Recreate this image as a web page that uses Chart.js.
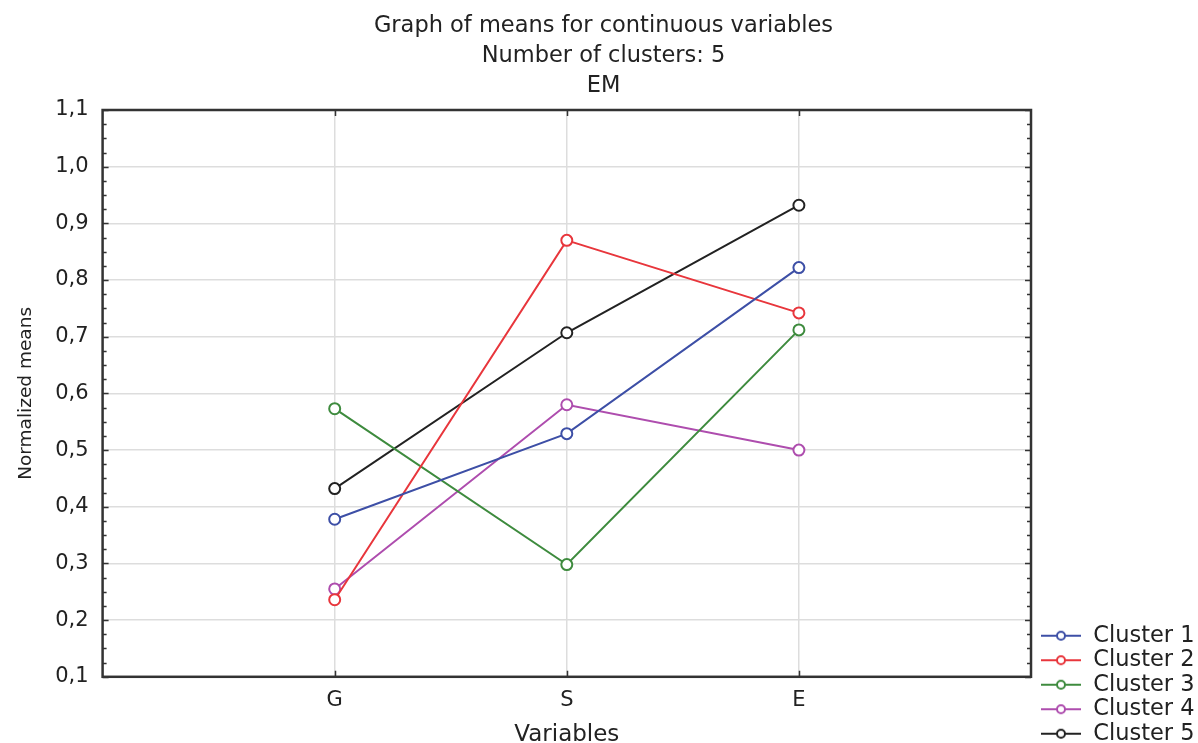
<!DOCTYPE html>
<html>
<head>
<meta charset="utf-8">
<title>Graph of means for continuous variables</title>
<script src="https://cdn.jsdelivr.net/npm/chart.js@4.4.1/dist/chart.umd.min.js"></script>
<style>
    html, body { margin: 0; padding: 0; background: #ffffff; }
    #wrap { width: 1198px; height: 743px; position: relative; }
</style>
</head>
<body>
<div id="wrap"><canvas id="meansChart"></canvas></div>
<script>
// --- data ---
const variables = ['G', 'S', 'E'];
const variablePos = [1, 2, 3];          // positions on the x axis (0..4)
const yTicks = [0.1, 0.2, 0.3, 0.4, 0.5, 0.6, 0.7, 0.8, 0.9, 1.0, 1.1];

const cluster1 = [0.378, 0.529, 0.822];
const cluster2 = [0.236, 0.870, 0.742];
const cluster3 = [0.573, 0.298, 0.712];
const cluster4 = [0.255, 0.580, 0.500];
const cluster5 = [0.432, 0.707, 0.932];

const clusterNames = ['Cluster 1', 'Cluster 2', 'Cluster 3', 'Cluster 4', 'Cluster 5'];
const clusterValues = [cluster1, cluster2, cluster3, cluster4, cluster5];
const clusterColors = ['#3d4fa6', '#e8363c', '#3e8b3e', '#ae4dae', '#222222'];

const FONT = '"DejaVu Sans", "Liberation Sans", sans-serif';

// small canvas for the legend: line with a hollow circle in the middle
// (8px of empty space on the left keeps it off the plot frame)
function legendSymbol(color) {
    const c = document.createElement('canvas');
    c.width = 49; c.height = 12;
    const g = c.getContext('2d');
    g.strokeStyle = color;
    g.lineWidth = 2;
    g.beginPath(); g.moveTo(8, 6); g.lineTo(48, 6); g.stroke();
    g.fillStyle = '#ffffff';
    g.beginPath(); g.arc(28, 6, 4, 0, Math.PI * 2); g.fill(); g.stroke();
    return c;
}

const datasets = clusterNames.map((name, i) => ({
    label: name,
    data: variablePos.map((x, j) => ({ x: x, y: clusterValues[i][j] })),
    borderColor: clusterColors[i],
    backgroundColor: '#ffffff',
    borderWidth: 2,
    pointRadius: 5.5,
    pointBorderWidth: 2,
    pointBackgroundColor: '#ffffff',
    pointBorderColor: clusterColors[i],
    pointStyle: 'circle',
    tension: 0,
    legendImg: legendSymbol(clusterColors[i])
}));

// frame with inward ticks, like the statistics package draws it
const framePlugin = {
    id: 'frame',
    afterDraw(chart) {
        const { ctx, chartArea: a, scales } = chart;
        const ys = scales.y, xs = scales.x;
        ctx.save();
        ctx.strokeStyle = '#333333';
        ctx.lineWidth = 1.5;
        ctx.beginPath();
        for (let v = 0.1; v <= 1.1001; v += 0.025) {
            const py = Math.round(ys.getPixelForValue(v)) + 0.5;
            const major = Math.abs(v * 10 - Math.round(v * 10)) < 0.01;
            const len = major ? 6 : 4;
            ctx.moveTo(a.left, py); ctx.lineTo(a.left + len, py);
            ctx.moveTo(a.right, py); ctx.lineTo(a.right - len, py);
        }
        variablePos.forEach(v => {
            const px = Math.round(xs.getPixelForValue(v)) + 0.5;
            ctx.moveTo(px, a.bottom); ctx.lineTo(px, a.bottom - 6);
            ctx.moveTo(px, a.top); ctx.lineTo(px, a.top + 6);
        });
        ctx.stroke();
        ctx.lineWidth = 2.5;
        ctx.strokeRect(a.left, a.top, a.right - a.left, a.bottom - a.top);
        ctx.restore();
    }
};

const ctx = document.getElementById('meansChart').getContext('2d');
new Chart(ctx, {
    type: 'line',
    data: { datasets: datasets },
    options: {
        responsive: true,
        maintainAspectRatio: false,
        animation: false,
        layout: { padding: { left: 9, right: 0, top: 4, bottom: -4 } },
        scales: {
            x: {
                type: 'linear',
                min: 0,
                max: 4,
                border: { display: false },
                grid: {
                    drawTicks: false,
                    color: c => (variablePos.includes(c.tick && c.tick.value) ? '#dddddd' : 'rgba(0,0,0,0)'),
                    lineWidth: 1.5
                },
                ticks: {
                    stepSize: 1,
                    padding: 11,
                    color: '#222222',
                    font: { family: FONT, size: 21 },
                    callback: v => {
                        const k = variablePos.indexOf(v);
                        return k >= 0 ? variables[k] : '';
                    }
                },
                title: {
                    display: true,
                    text: 'Variables',
                    color: '#222222',
                    font: { family: FONT, size: 23, lineHeight: 1 },
                    padding: { top: 0, bottom: 0 }
                }
            },
            y: {
                min: yTicks[0],
                max: yTicks[yTicks.length - 1],
                border: { display: false },
                afterBuildTicks: scale => { scale.ticks = yTicks.map(v => ({ value: v })); },
                grid: {
                    drawTicks: false,
                    color: c => (c.tick && (c.tick.value === yTicks[0] || c.tick.value === yTicks[yTicks.length - 1]) ? 'rgba(0,0,0,0)' : '#dddddd'),
                    lineWidth: 1.5
                },
                ticks: {
                    padding: 14,
                    color: '#222222',
                    font: { family: FONT, size: 21 },
                    callback: v => v.toFixed(1).replace('.', ',')
                },
                title: {
                    display: true,
                    text: 'Normalized means',
                    color: '#222222',
                    font: { family: FONT, size: 18.5 },
                    padding: { top: 6, bottom: 4 }
                }
            }
        },
        plugins: {
            title: {
                display: true,
                text: ['Graph of means for continuous variables', 'Number of clusters: 5', 'EM'],
                color: '#222222',
                font: { family: FONT, size: 22.5, weight: 'normal', lineHeight: 30 / 22.5 },
                padding: { top: 7, bottom: 9 }
            },
            legend: {
                position: 'right',
                align: 'end',
                maxWidth: 167,
                labels: {
                    usePointStyle: true,
                    pointStyleWidth: 49,
                    padding: 2,
                    color: '#222222',
                    font: { family: FONT, size: 22.5 },
                    generateLabels: chart => chart.data.datasets.map((d, i) => ({
                        text: d.label,
                        pointStyle: d.legendImg,
                        fillStyle: '#ffffff',
                        strokeStyle: d.borderColor,
                        lineWidth: 0,
                        fontColor: '#222222',
                        datasetIndex: i,
                        hidden: false
                    }))
                }
            },
            tooltip: { enabled: false }
        }
    },
    plugins: [framePlugin]
});
</script>
</body>
</html>
